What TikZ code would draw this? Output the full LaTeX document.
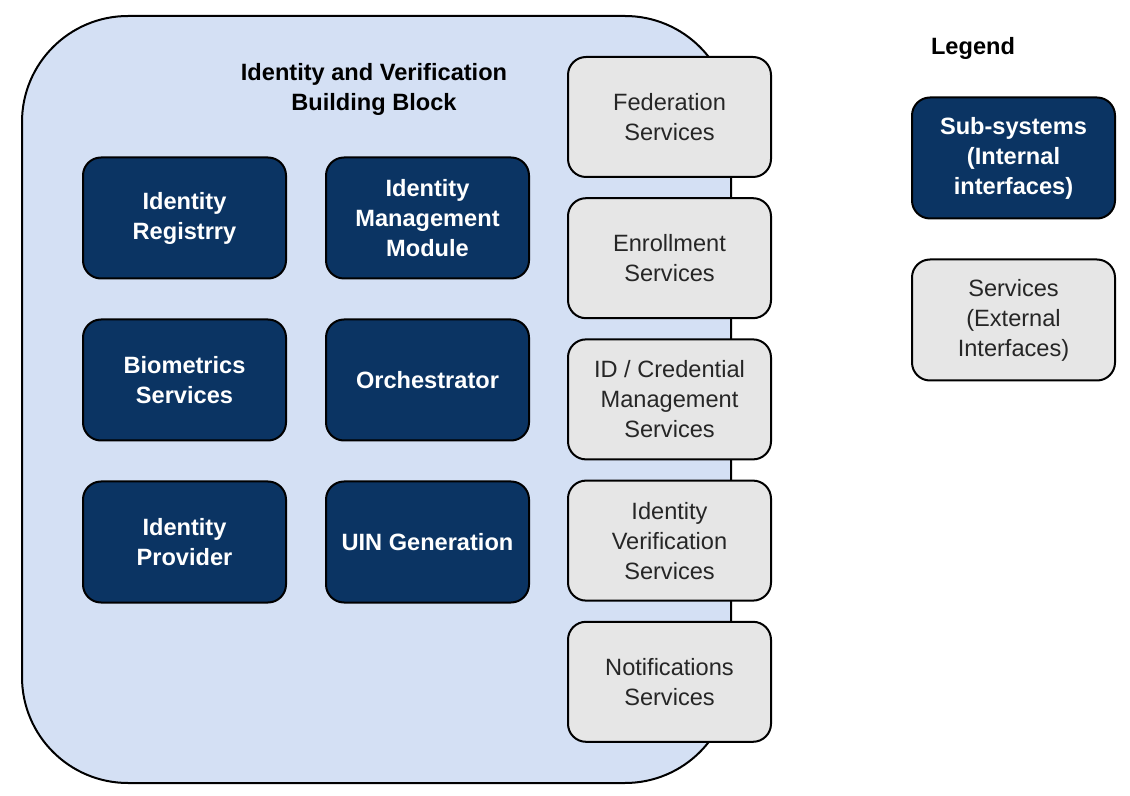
\documentclass[tikz,border=0pt]{standalone}
\usepackage{fontspec}
\setmainfont{Liberation Sans}
\usetikzlibrary{positioning}
\definecolor{navy}{HTML}{0B3463}
\definecolor{paleblue}{HTML}{D4E0F4}
\definecolor{lightgrey}{HTML}{E6E6E6}

\begin{document}
\begin{tikzpicture}[x=0.5pt,y=-0.5pt,
  boxtext/.style={font=\fontsize{11.8}{15}\selectfont,align=center},
  subsys/.style={boxtext,draw=black,fill=navy,text=white,font=\bfseries\fontsize{11.8}{15}\selectfont,
    rounded corners=9pt,minimum width=101.5pt,minimum height=60.5pt,line width=1pt},
  service/.style={boxtext,draw=black,fill=lightgrey,text=black!85,
    rounded corners=9pt,minimum width=101.5pt,minimum height=60pt,line width=1pt}]
\useasboundingbox (0,0) rectangle (1130,796);

\node[draw=black,fill=paleblue,rounded corners=53pt,line width=1pt,
  minimum width=354.5pt,minimum height=383.5pt] (block) at (376.5,399.5) {};
\node[boxtext,font=\bfseries\fontsize{11.8}{15}\selectfont] (title) at (374,89)
  {Identity and Verification\\Building Block};

\node[subsys] (registry) at (184.5,218) {Identity\\Registrry};
\node[subsys,right=19pt of registry] (idm) {Identity\\Management\\Module};
\node[subsys,below=19.5pt of registry] (bio) {Biometrics\\Services};
\node[subsys,right=19pt of bio] (orch) {Orchestrator};
\node[subsys,below=19.5pt of bio] (idp) {Identity\\Provider};
\node[subsys,right=19pt of idp] (uin) {UIN Generation};

\node[service] (fed) at (669.5,117) {Federation\\Services};
\node[service,below=9.6pt of fed] (enrol) {Enrollment\\Services};
\node[service,below=9.6pt of enrol] (cred) {ID / Credential\\Management\\Services};
\node[service,below=9.6pt of cred] (verif) {Identity\\Verification\\Services};
\node[service,below=9.6pt of verif] (notif) {Notifications\\Services};

\node[boxtext,font=\bfseries\fontsize{11.8}{15}\selectfont] (legend) at (973,48) {Legend};
\node[subsys] (keysub) at (1013.5,158) {Sub-systems\\(Internal\\interfaces)};
\node[service,minimum height=60.5pt] (keysrv) at (1013.5,320) {Services\\(External\\Interfaces)};
\end{tikzpicture}
\end{document}
